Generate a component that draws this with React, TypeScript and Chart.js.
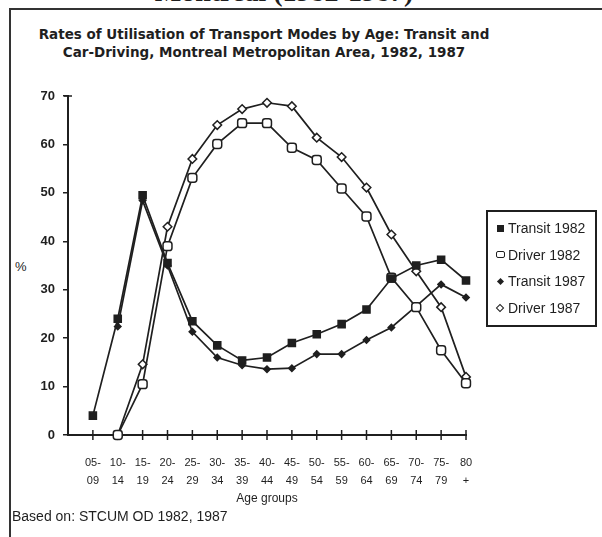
import React, { useEffect, useRef } from "react";
import { Chart, registerables } from "chart.js";

Chart.register(...registerables);

// ---- data ----
const ageTop = ["05-", "10-", "15-", "20-", "25-", "30-", "35-", "40-", "45-", "50-", "55-", "60-", "65-", "70-", "75-", "80"];
const ageBottom = ["09", "14", "19", "24", "29", "34", "39", "44", "49", "54", "59", "64", "69", "74", "79", "+"];

const transit1982 = [4, 24, 49.5, 35.5, 23.5, 18.5, 15.4, 16, 19, 20.8, 22.9, 25.9, 32.3, 35, 36.2, 31.9];
const driver1982 = [null, 0, 10.5, 39, 53.1, 60.1, 64.4, 64.4, 59.3, 56.8, 50.9, 45.1, 32.5, 26.4, 17.5, 10.7];
const transit1987 = [null, 22.4, 48.4, 35, 21.3, 16, 14.4, 13.6, 13.8, 16.7, 16.7, 19.6, 22.2, 26.6, 31.1, 28.4];
const driver1987 = [null, 0, 14.6, 43, 57, 64, 67.3, 68.6, 67.9, 61.4, 57.4, 51.1, 41.4, 33.8, 26.4, 12];

const seriesNames = ["Transit 1982", "Driver 1982", "Transit 1987", "Driver 1987"];
const yMin = 0;
const yMax = 70;
const yStep = 10;

const INK = "#1f1f1f";
const SANS = "'Liberation Sans', Arial, sans-serif";

const toPoints = (arr: (number | null)[]) => arr.map((v, i) => ({ x: i, y: v }));

const crossTicks = {
  id: "crossTicks",
  beforeDatasetsDraw(chart: any) {
    const { ctx, chartArea } = chart;
    const x = chart.scales.x;
    ctx.save();
    ctx.strokeStyle = INK;
    ctx.lineWidth = 1.5;
    ageTop.forEach((_, i) => {
      const px = x.getPixelForValue(i);
      ctx.beginPath();
      ctx.moveTo(px, chartArea.bottom - 5);
      ctx.lineTo(px, chartArea.bottom + 5);
      ctx.stroke();
    });
    // cap at the top of the y axis
    const y = chart.scales.y;
    const top = y.getPixelForValue(yMax);
    ctx.beginPath();
    ctx.moveTo(chartArea.left - 4, top);
    ctx.lineTo(chartArea.left + 4, top);
    ctx.stroke();
    ctx.restore();
  },
};

function LegendMarker({ kind }: { kind: number }) {
  const base: React.CSSProperties = { position: "absolute", boxSizing: "border-box" };
  if (kind === 0)
    return <div style={{ ...base, left: -3.5, top: -3.5, width: 7, height: 7, background: INK }} />;
  if (kind === 1)
    return (
      <div
        style={{ ...base, left: -4.5, top: -3.5, width: 9, height: 7, border: `1.6px solid ${INK}`, borderRadius: 2, background: "#fff" }}
      />
    );
  if (kind === 2)
    return <div style={{ ...base, left: -2.5, top: -2.5, width: 5, height: 5, background: INK, transform: "rotate(45deg)" }} />;
  return (
    <div
      style={{ ...base, left: -3, top: -3, width: 6, height: 6, border: `1.5px solid ${INK}`, background: "#fff", transform: "rotate(45deg)" }}
    />
  );
}

export default function App() {
  const canvasRef = useRef<HTMLCanvasElement | null>(null);

  useEffect(() => {
    if (!canvasRef.current) return;
    const common = {
      borderColor: INK,
      borderWidth: 1.7,
      pointBorderColor: INK,
      pointBorderWidth: 1.5,
      tension: 0,
      clip: false as any,
    };
    const chart = new Chart(canvasRef.current, {
      type: "line",
      data: {
        datasets: [
          {
            ...common,
            label: seriesNames[0],
            data: toPoints(transit1982) as any,
            pointStyle: "rect",
            pointRadius: 5,
            pointBackgroundColor: INK,
          },
          {
            ...common,
            label: seriesNames[1],
            data: toPoints(driver1982) as any,
            pointStyle: "rectRounded",
            pointRadius: 5.2,
            pointBackgroundColor: "#fff",
          },
          {
            ...common,
            label: seriesNames[2],
            data: toPoints(transit1987) as any,
            pointStyle: "rectRot",
            pointRadius: 3.2,
            pointBackgroundColor: INK,
          },
          {
            ...common,
            label: seriesNames[3],
            data: toPoints(driver1987) as any,
            pointStyle: "rectRot",
            pointRadius: 4.3,
            pointBackgroundColor: "#fff",
          },
        ],
      },
      options: {
        responsive: false,
        animation: false,
        layout: { padding: { left: 0, top: 96, right: 136, bottom: 31 } },
        plugins: { legend: { display: false }, title: { display: false }, tooltip: { enabled: false } },
        scales: {
          x: {
            type: "linear",
            min: -1,
            max: ageTop.length - 1,
            afterFit: (s: any) => {
              s.height = 71;
            },
            grid: { display: false },
            border: { display: true, color: INK, width: 2 },
            ticks: {
              stepSize: 1,
              autoSkip: false,
              maxRotation: 0,
              minRotation: 0,
              padding: 11,
              color: INK,
              font: { family: SANS, size: 11, lineHeight: 18 / 11 },
              callback: (v: any) => {
                const i = Math.round(Number(v));
                return i >= 0 && i < ageTop.length ? [ageTop[i], ageBottom[i]] : "";
              },
            },
            title: {
              display: true,
              text: "Age groups",
              color: INK,
              font: { family: SANS, size: 12 },
              padding: { top: 0, bottom: 0 },
            },
          },
          y: {
            min: yMin,
            max: yMax,
            afterFit: (s: any) => {
              s.width = 68;
            },
            grid: { drawOnChartArea: false, tickLength: 5, color: INK, lineWidth: 1.5 },
            border: { display: true, color: INK, width: 2 },
            ticks: {
              stepSize: yStep,
              padding: 8,
              color: INK,
              font: { family: SANS, size: 13, weight: "bold" },
            },
          },
        },
      },
      plugins: [crossTicks],
    });
    return () => chart.destroy();
  }, []);

  const legendY = [228, 254.5, 281, 308];

  return (
    <div
      style={{
        position: "absolute",
        left: 0,
        top: 0,
        width: 602,
        height: 537,
        background: "#fff",
        overflow: "hidden",
        color: INK,
        fontFamily: SANS,
      }}
    >
      <div
        style={{
          position: "absolute",
          left: 0,
          width: 568,
          top: -22,
          textAlign: "center",
          font: "bold 28px 'Liberation Serif', 'Times New Roman', serif",
          lineHeight: "28px",
          whiteSpace: "nowrap",
          color: INK,
        }}
      >
        Montreal (1982-1987)
      </div>
      <div
        style={{
          position: "absolute",
          left: 9,
          top: 8,
          width: 600,
          height: 600,
          borderTop: `2px solid #333`,
          borderLeft: `2px solid #333`,
        }}
      />
      <div
        style={{
          position: "absolute",
          left: 0,
          width: 528,
          top: 25,
          textAlign: "center",
          font: "bold 13.5px 'DejaVu Sans', sans-serif",
          lineHeight: "18px",
          whiteSpace: "nowrap",
          color: INK,
        }}
      >
        <div>Rates of Utilisation of Transport Modes by Age: Transit and</div>
        <div>Car-Driving, Montreal Metropolitan Area, 1982, 1987</div>
      </div>
      <div style={{ position: "absolute", left: 15, top: 259, fontSize: 13, lineHeight: "16px", color: INK }}>%</div>
      <canvas ref={canvasRef} width={602} height={537} style={{ position: "absolute", left: 0, top: 0, width: 602, height: 537 }} />
      <div
        style={{
          position: "absolute",
          left: 486,
          top: 210,
          width: 111,
          height: 117,
          boxSizing: "border-box",
          border: `2px solid ${INK}`,
        }}
      />
      {seriesNames.map((name, k) => (
        <div key={name}>
          <div style={{ position: "absolute", left: 500, top: legendY[k] }}>
            <LegendMarker kind={k} />
          </div>
          <div
            style={{
              position: "absolute",
              left: 508,
              top: legendY[k] - 8,
              fontSize: 14,
              lineHeight: "16px",
              whiteSpace: "nowrap",
              color: INK,
            }}
          >
            {name}
          </div>
        </div>
      ))}
      <div style={{ position: "absolute", left: 12, top: 508, fontSize: 14, lineHeight: "16px", whiteSpace: "nowrap", color: INK }}>
        Based on: STCUM OD 1982, 1987
      </div>
    </div>
  );
}
